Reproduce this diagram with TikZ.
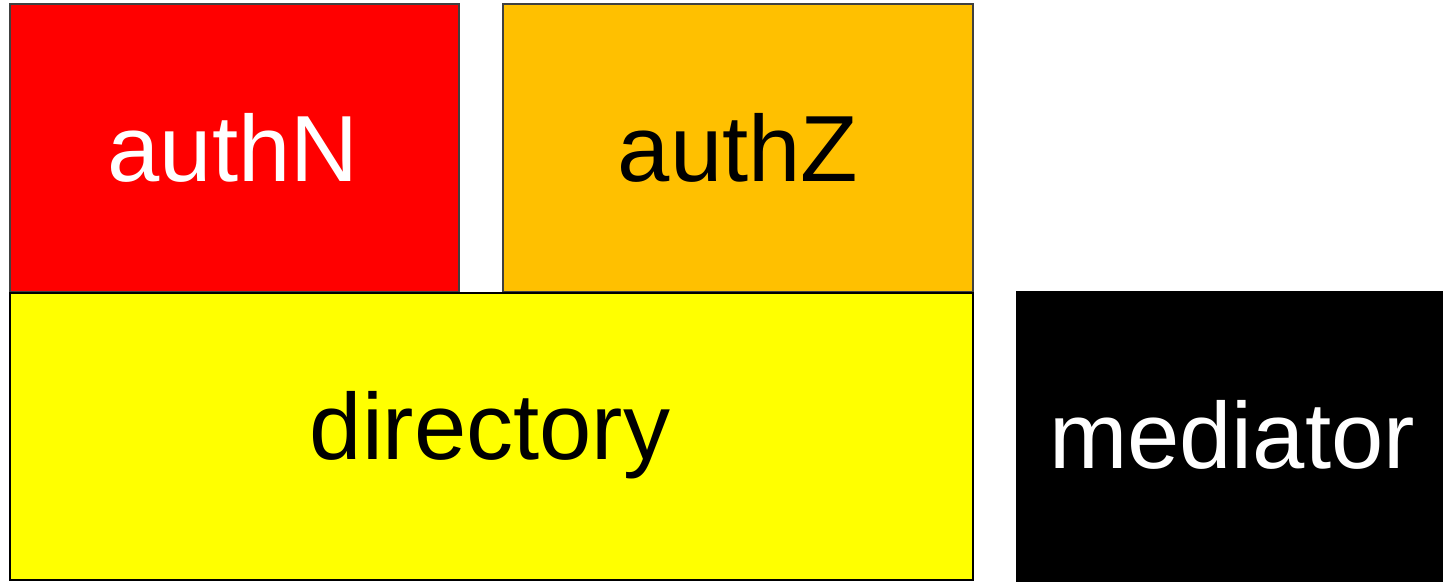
\documentclass[tikz,border=0pt]{standalone}
\usepackage{fontspec}
\setmainfont{Liberation Sans}
\definecolor{authNred}{HTML}{FF0000}
\definecolor{authZorange}{HTML}{FFC000}
\definecolor{diryellow}{HTML}{FFFF00}
\definecolor{edgegray}{HTML}{404040}
\begin{document}
\begin{tikzpicture}[x=0.5pt,y=-0.5pt,
  lbl/.style={font=\fontsize{47}{56}\selectfont, inner sep=0pt},
  boxN/.style={fill=authNred, draw=edgegray, line width=1pt},
  boxZ/.style={fill=authZorange, draw=edgegray, line width=1pt},
  boxD/.style={fill=diryellow, draw=black, line width=1.2pt},
  boxM/.style={fill=black}]
\useasboundingbox (0,0) rectangle (1443,582);
\draw[boxN] (10,4) rectangle (459,292);
\node[lbl, text=white] (authN) at (233,148) {authN};
\draw[boxZ] (503,4) rectangle (973,292);
\node[lbl, text=black] (authZ) at (738,148) {authZ};
\draw[boxD] (10,293) rectangle (973,580);
\node[lbl, text=black] (directory) at (490,435) {directory};
\fill[boxM] (1016,291) rectangle (1443,582);
\node[lbl, text=white] (mediator) at (1232,435) {mediator};
\end{tikzpicture}
\end{document}
